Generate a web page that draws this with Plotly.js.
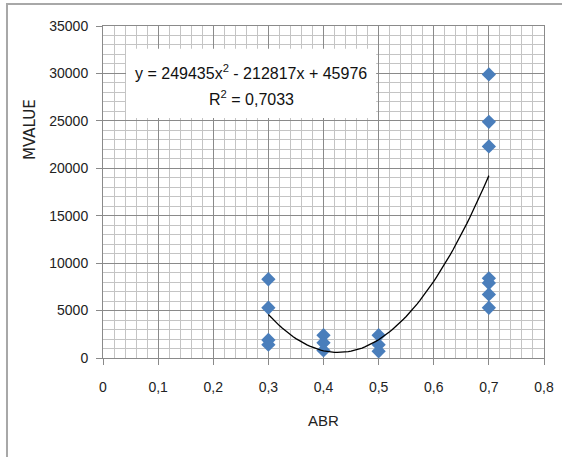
<!DOCTYPE html>
<html>
<head>
<meta charset="utf-8">
<script src="https://cdn.plot.ly/plotly-3.0.1.min.js"></script>
<style>html,body{margin:0;padding:0;background:#fff;}#chart{width:562px;height:457px;}</style>
</head>
<body>
<div id="chart"></div>
<script>
// Data
const abr = [0.3, 0.3, 0.3, 0.3, 0.4, 0.4, 0.4, 0.5, 0.5, 0.5, 0.7, 0.7, 0.7, 0.7, 0.7, 0.7, 0.7];
const mvalue = [8300, 5300, 1900, 1400, 2400, 1600, 800, 2400, 1400, 700, 29900, 24900, 22300, 8400, 7900, 6700, 5300];
// Trendline coefficients shown on the chart (a x^2 + b x + c)
const trendCoef = [249435, -212817, 45976];
const trendRange = [0.3, 0.7];
const xTickVals = [0, 0.1, 0.2, 0.3, 0.4, 0.5, 0.6, 0.7, 0.8];
const xTickText = ['0', '0,1', '0,2', '0,3', '0,4', '0,5', '0,6', '0,7', '0,8'];
const yTickVals = [0, 5000, 10000, 15000, 20000, 25000, 30000, 35000];
const yTickText = ['0', '5000', '10000', '15000', '20000', '25000', '30000', '35000'];
const eqText = 'y = 249435x<sup>2</sup> - 212817x + 45976';
const r2Text = 'R<sup>2</sup> = 0,7033';
const xTitle = 'ABR';
const yTitle = 'MVALUE';

const tx = [], ty = [];
const steps = 80;
for (let i = 0; i <= steps; i++) {
  const x = trendRange[0] + (trendRange[1] - trendRange[0]) * i / steps;
  tx.push(x);
  ty.push(trendCoef[0] * x * x + trendCoef[1] * x + trendCoef[2]);
}

const FONT = 'Liberation Sans, Arial, sans-serif';

const data = [
  {x: abr, y: mvalue, type: 'scatter', mode: 'markers',
   marker: {symbol: 'diamond', size: 11, color: '#4a7ebb'}, hoverinfo: 'none'},
  {x: tx, y: ty, type: 'scatter', mode: 'lines',
   line: {color: '#000', width: 1.3}, hoverinfo: 'none'}
];

const layout = {
  width: 562, height: 457,
  margin: {l: 103, r: 18, t: 26, b: 99},
  paper_bgcolor: '#fff', plot_bgcolor: '#fff',
  showlegend: false,
  font: {family: FONT, size: 14, color: '#222'},
  xaxis: {
    range: [0, 0.8], tickvals: xTickVals, ticktext: xTickText,
    showgrid: true, gridcolor: '#8a8a8a', gridwidth: 1,
    minor: {dtick: 0.02, showgrid: true, gridcolor: '#c4c4c4', gridwidth: 1},
    showline: true, linecolor: '#8a8a8a', linewidth: 1, mirror: true,
    ticks: 'outside', ticklen: 6, tickcolor: '#8a8a8a',
    ticklabelstandoff: 10, zeroline: false,
    tickfont: {family: FONT, size: 14, color: '#222'}
  },
  yaxis: {
    range: [0, 35000], tickvals: yTickVals, ticktext: yTickText,
    showgrid: true, gridcolor: '#8a8a8a', gridwidth: 1,
    minor: {dtick: 1000, showgrid: true, gridcolor: '#c4c4c4', gridwidth: 1},
    showline: true, linecolor: '#8a8a8a', linewidth: 1, mirror: true,
    ticks: 'outside', ticklen: 6, tickcolor: '#8a8a8a',
    ticklabelstandoff: 5, zeroline: false,
    tickfont: {family: FONT, size: 14, color: '#222'}
  },
  shapes: [
    {type: 'rect', xref: 'x', yref: 'y', x0: 0.0417, x1: 0.4955, y0: 25300, y1: 32600,
     fillcolor: '#fff', line: {width: 0}, layer: 'above'},
    {type: 'path', xref: 'paper', yref: 'paper',
     path: 'M -0.2177,-0.30 L -0.2177,1.066 L 1.05,1.066',
     line: {color: '#a8a8a8', width: 2}}
  ],
  annotations: [
    {text: eqText, xref: 'x', yref: 'y', x: 0.269, y: 30150, showarrow: false,
     xanchor: 'center', yanchor: 'middle',
     font: {family: FONT, size: 16, color: '#111'}},
    {text: r2Text, xref: 'x', yref: 'y', x: 0.269, y: 27400, showarrow: false,
     xanchor: 'center', yanchor: 'middle',
     font: {family: FONT, size: 16, color: '#111'}},
    {text: xTitle, xref: 'paper', yref: 'paper', x: 0.5, y: -0.187, showarrow: false,
     xanchor: 'center', yanchor: 'middle',
     font: {family: FONT, size: 15, color: '#222'}},
    {text: yTitle, xref: 'paper', yref: 'paper', x: -0.1655, y: 0.687, showarrow: false,
     xanchor: 'center', yanchor: 'middle',
     textangle: -90, font: {family: 'DejaVu Sans, sans-serif', size: 15, color: '#222'}}
  ]
};

Plotly.newPlot('chart', data, layout, {staticPlot: true, displayModeBar: false});
</script>
</body>
</html>
